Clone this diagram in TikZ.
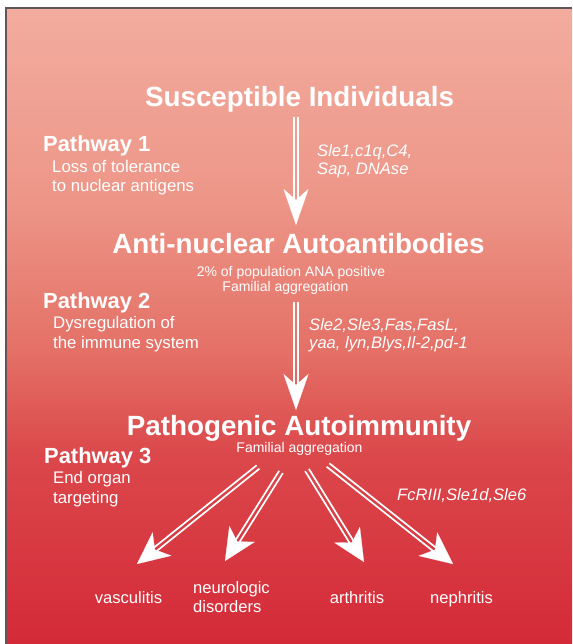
\documentclass[tikz,border=0pt]{standalone}
\usepackage{fontspec}
\setmainfont{Liberation Sans}
\usetikzlibrary{arrows.meta, positioning, calc}

\definecolor{bgA}{RGB}{242,172,158}
\definecolor{bgB}{RGB}{237,150,136}
\definecolor{bgC}{RGB}{228,112,102}
\definecolor{bgD}{RGB}{219,72,75}
\definecolor{bgE}{RGB}{212,42,56}
\definecolor{frame}{RGB}{95,85,90}
\pgfdeclareverticalshading{redfade}{100bp}{color(0bp)=(bgE); color(25bp)=(bgE); color(40bp)=(bgD); color(48bp)=(bgC); color(60bp)=(bgB); color(75bp)=(bgA); color(100bp)=(bgA)}

% twin white line with a head: start, tip, shortening, head style
\newcommand{\twinarrow}[4]{%
  \draw[twin, shorten >=#3] ($(#1)!2.2pt!90:(#2)$) -- ($(#2)!2.2pt!-90:(#1)$);
  \draw[twin, shorten >=#3] ($(#1)!2.2pt!-90:(#2)$) -- ($(#2)!2.2pt!90:(#1)$);
  \draw[#4] ($(#2)!4pt!(#1)$) -- (#2);
}

\begin{document}
\begin{tikzpicture}[x=1pt, y=-1pt,
  every node/.style={inner sep=0pt, text=white},
  heading/.style={font=\fontsize{27.8}{30}\selectfont\bfseries, anchor=base},
  pathway/.style={font=\fontsize{21.9}{24}\selectfont\bfseries, anchor=base west},
  desc/.style={font=\fontsize{16.8}{19.5}\selectfont, anchor=base west, align=left},
  genes/.style={font=\fontsize{16.6}{18}\selectfont\itshape, anchor=base west, align=left},
  note/.style={font=\fontsize{14}{15}\selectfont, anchor=base},
  organ/.style={font=\fontsize{16.6}{19}\selectfont, anchor=base},
  twin/.style={white, line width=1.7pt},
  vhead/.style={white, line width=0.2pt, -{Stealth[length=36pt, width=25pt, inset=11pt]}},
  dhead/.style={white, line width=0.2pt, -{Stealth[length=32pt, width=30pt, inset=9pt]}}]
  \useasboundingbox (0,0) rectangle (572,644);

  % background
  \fill[white] (0,0) rectangle (572,644);
  \shade[shading=redfade] (7,9) rectangle (572,644);
  \draw[frame, line width=1.6pt] (6,644) -- (6,8) -- (572,8);

  % stages
  \node (susc) [heading] at (299.5,107) {Susceptible Individuals};
  \node (ana) [heading] at (298.5,253) {Anti-nuclear Autoantibodies};
  \node (patho) [heading] at (299,435) {Pathogenic Autoimmunity};
  \node (ana-pct) [note] at (291,276) {2\% of population ANA positive};
  \node (ana-fam) [note] at (285.5,291) {Familial aggregation};
  \node (patho-fam) [note] at (299.5,452) {Familial aggregation};

  % pathways (multi-line nodes sit on their last line)
  \node (pw1) [pathway] at (43,152) {Pathway 1};
  \node (pw1-text) [desc] at (52,192) {Loss of tolerance\\to nuclear antigens};
  \node (pw2) [pathway] at (43,308) {Pathway 2};
  \node (pw2-text) [desc] at (53,348) {Dysregulation of\\the immune system};
  \node (pw3) [pathway] at (44,463) {Pathway 3};
  \node (pw3-text) [desc] at (53,503) {End organ\\targeting};

  % genes
  \node (genes1) [genes] at (317,175) {Sle1,c1q,C4,\\Sap, DNAse};
  \node (genes2) [genes] at (309,348) {Sle2,Sle3,Fas,FasL,\\yaa, lyn,Blys,Il-2,pd-1};
  \node (genes3) [genes] at (397,500) {FcRIII,Sle1d,Sle6};

  % organs
  \node (vasc) [organ] at (128.5,603) {vasculitis};
  \node (neuro) [organ, align=left, anchor=base west] at (193,612) {neurologic\\disorders};
  \node (arth) [organ] at (357,603) {arthritis};
  \node (neph) [organ] at (461.5,603) {nephritis};

  % arrow ends
  \coordinate (s1) at (296,117);
  \coordinate (t1) at (296,225);
  \coordinate (s2) at (296,302);
  \coordinate (t2) at (296,410);
  \coordinate (f1s) at (258,467);
  \coordinate (f1t) at (137,564);
  \coordinate (f2s) at (281,472);
  \coordinate (f2t) at (225,561);
  \coordinate (f3s) at (307,470);
  \coordinate (f3t) at (364,562);
  \coordinate (f4s) at (328,465);
  \coordinate (f4t) at (453,564);

  \twinarrow{s1}{t1}{22pt}{vhead}
  \twinarrow{s2}{t2}{22pt}{vhead}
  \twinarrow{f1s}{f1t}{18pt}{dhead}
  \twinarrow{f2s}{f2t}{18pt}{dhead}
  \twinarrow{f3s}{f3t}{18pt}{dhead}
  \twinarrow{f4s}{f4t}{18pt}{dhead}
\end{tikzpicture}
\end{document}
